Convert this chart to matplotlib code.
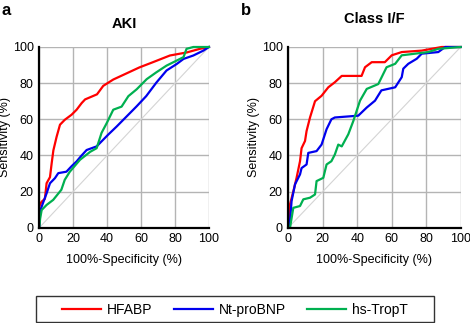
import matplotlib
matplotlib.use("Agg")
import matplotlib.pyplot as plt
from matplotlib.patches import Rectangle

plt.rcParams["font.family"] = ["Liberation Sans", "DejaVu Sans"]

# AKI (panel a) — (100-specificity, sensitivity) in %
aki_hfabp_x = [0, 0, 0.5, 1.4, 3.3, 4.3, 6.3, 7.3, 8.3, 10.2, 12.2, 15, 19, 22, 25, 27, 34,
               37.7, 43.6, 50.5, 59, 67, 77, 87, 94.7, 100]
aki_hfabp_y = [0, 11.7, 13, 14.4, 16, 24.6, 28, 35.7, 42.8, 50.3, 57, 59.7, 62.5, 65.3, 69, 71,
               73.8, 78.5, 82, 85, 88.7, 91.6, 95.3, 97, 99, 100]
aki_ntpro_x = [0, 0.5, 1.4, 4.3, 6.3, 9.2, 11.2, 16, 19, 22, 24.5, 27.9, 33.8, 40.6, 45.6,
               51.5, 57.4, 63, 69, 75, 81, 85, 90.8, 96.7, 100]
aki_ntpro_y = [0, 9, 11.7, 19, 24.6, 27.4, 30.2, 31, 34, 36.7, 39.5, 43, 45, 51.5, 56,
               61.6, 67.2, 72.8, 80.3, 87, 90.6, 93.4, 95.3, 98, 100]
aki_trop_x = [0, 0.5, 1.4, 4.3, 8.2, 13, 15, 18, 24, 30, 33.8, 36.7, 39.7, 43.6, 48.5, 52.5,
              57.4, 63.3, 69, 75, 81, 85, 86.8, 90.8, 100]
aki_trop_y = [0, 5, 9.8, 12.6, 15.4, 21, 26.5, 31, 37.6, 42, 44, 52.5, 57.8, 65.3, 67, 72.8,
              76.6, 82.2, 86, 89.7, 92.5, 94.4, 99, 100, 100]

# Class I/F (panel b)
cls_hfabp_x = [0, 0, 1, 2.9, 4.8, 6.8, 7.7, 9.7, 10.6, 12.6, 15.5, 19.3, 23.2, 27, 31, 42.5,
               44.5, 48.4, 56, 60, 65.8, 77.4, 89, 100]
cls_hfabp_y = [0, 1, 13, 20, 27.6, 36.8, 44, 48, 53.5, 61, 70, 73, 77.7, 80.5, 84, 84,
               88.8, 91.6, 91.6, 95.4, 97.2, 98, 100, 100]
cls_ntpro_x = [0, 1, 1.9, 3.9, 6.8, 7.7, 10.6, 11.6, 16.4, 19.3, 22.2, 25, 27, 40.6, 45.5,
               50.3, 54, 62, 65.8, 66.7, 69.6, 74.5, 77.4, 87, 91, 100]
cls_ntpro_y = [0, 3.7, 14.7, 24, 29.5, 33, 35, 41.4, 42.4, 46, 54.5, 60, 61, 62, 66.5,
               70.3, 76, 77.7, 83.3, 88, 90.7, 93.5, 96.3, 97.2, 100, 100]
cls_trop_x = [0, 1, 2.9, 6.8, 8.7, 12.6, 15.5, 16.4, 20.3, 22.2, 25, 27, 29, 31, 34.8, 37.7,
              41.6, 45.5, 52.2, 57, 62, 65.8, 73.5, 81.2, 87, 100]
cls_trop_y = [0, 0, 11, 12, 15.7, 16.6, 18.4, 25.8, 27.6, 35, 36.8, 40.5, 46, 45, 51.7, 59,
              70.3, 76.8, 79.5, 88.8, 90.7, 95.4, 96.3, 97.2, 99, 100]

ticks = [0, 20, 40, 60, 80, 100]
names = ["HFABP", "Nt-proBNP", "hs-TropT"]
colors = ["#ff0000", "#0000ee", "#00b050"]

panels = [
    ("a", "AKI", 14, [(aki_hfabp_x, aki_hfabp_y), (aki_ntpro_x, aki_ntpro_y), (aki_trop_x, aki_trop_y)]),
    ("b", "Class I/F", 17, [(cls_hfabp_x, cls_hfabp_y), (cls_ntpro_x, cls_ntpro_y), (cls_trop_x, cls_trop_y)]),
]
positions = [[0.0836, 0.295, 0.361, 0.5595], [0.6134, 0.295, 0.3668, 0.5595]]
letter_x = [0.004, 0.513]

fig = plt.figure(figsize=(4.70, 3.23), dpi=100)
handles = []
for (letter, title, tpad, curves), pos, lx in zip(panels, positions, letter_x):
    ax = fig.add_axes(pos)
    ax.set_xlim(0, 100); ax.set_ylim(0, 100)
    ax.set_xticks(ticks); ax.set_yticks(ticks)
    ax.grid(color="#b4b4b4", linewidth=1.0)
    ax.set_axisbelow(True)
    ax.plot([0, 100], [0, 100], color="#d4d4d4", linewidth=0.8, zorder=1)
    handles = []
    for (x, y), c, n in zip(curves, colors, names):
        h, = ax.plot(x, y, color=c, linewidth=1.6, label=n, zorder=3, clip_on=False)
        handles.append(h)
    for s in ["top", "right"]:
        ax.spines[s].set_visible(False)
    for s in ["left", "bottom"]:
        ax.spines[s].set_linewidth(1.6)
        ax.spines[s].set_zorder(4)
    ax.tick_params(length=0, labelsize=9, pad=4)
    ax.set_xlabel("100%-Specificity (%)", fontsize=9, labelpad=6)
    ax.set_ylabel("Sensitivity (%)", fontsize=9, labelpad=1)
    ax.set_title(title, fontsize=10.5, fontweight="bold", pad=tpad)
    fig.text(lx, 0.968, letter, fontsize=12, fontweight="bold", va="center", ha="left")

# legend box drawn as a plain rectangle, entries without their own frame
fig.patches.append(Rectangle((36 / 470, 0.003), 398 / 470, 26 / 323, transform=fig.transFigure,
                             fill=False, edgecolor="#333333", linewidth=1.0))
fig.legend(handles, names, loc="center", bbox_to_anchor=(0.5, 0.040), ncol=3,
           frameon=False, fontsize=10, handlelength=2.8,
           columnspacing=1.5, handletextpad=0.45)

fig.savefig("out.png", dpi=100)
